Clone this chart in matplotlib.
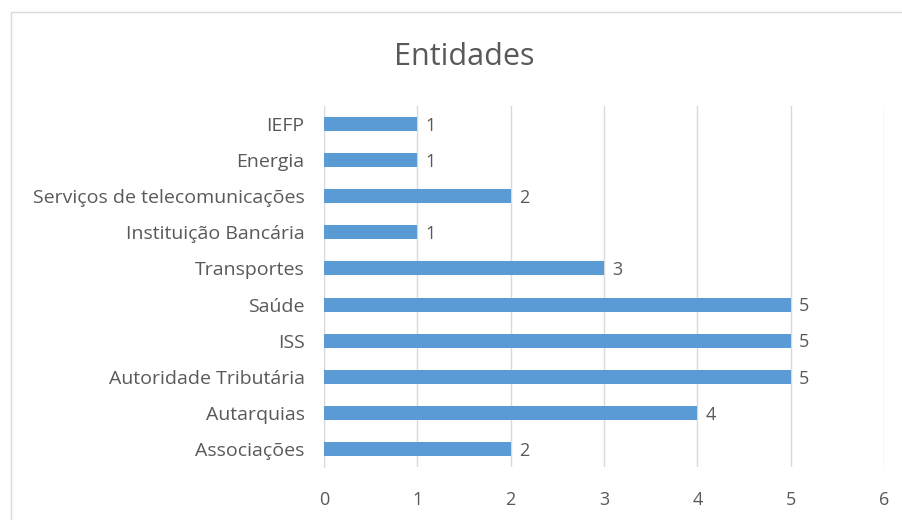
import matplotlib.pyplot as plt
import numpy as np

# data, bottom to top
categories = ['Associações', 'Autarquias', 'Autoridade Tributária', 'ISS', 'Saúde',
              'Transportes', 'Instituição Bancária', 'Serviços de telecomunicações',
              'Energia', 'IEFP']
values = [2, 4, 5, 5, 5, 3, 1, 2, 1, 1]
x_ticks = [0, 1, 2, 3, 4, 5, 6]

plt.rcParams['font.family'] = ['Open Sans', 'DejaVu Sans']
txt = '#595959'

fig = plt.figure(figsize=(9.03, 5.2), dpi=100)
# chart frame border
fig.patches.append(plt.Rectangle((11/903, -0.01), 1.0, 1 - 12/520 + 0.01,
                                 transform=fig.transFigure, fill=False,
                                 edgecolor='#D9D9D9', lw=1))

ax = fig.add_axes([324/903, 1 - 467/520, 560/903, 361/520])
y = np.arange(len(categories))
ax.barh(y, values, height=0.39, color='#5B9BD5', zorder=3)

for yi, v in zip(y, values):
    ax.text(v + 0.09, yi - 0.05, str(v), va='center', ha='left', fontsize=13, color=txt)

ax.set_xlim(0, 6)
ax.set_ylim(-0.5, len(categories) - 0.5)
ax.set_xticks(x_ticks)
ax.set_yticks(y)
ax.set_yticklabels(categories)
ax.tick_params(length=0, labelsize=14, colors=txt)
ax.tick_params(axis='x', labelsize=13, pad=17)
ax.tick_params(axis='y', pad=14)
ax.grid(axis='x', color='#D9D9D9', lw=1, zorder=0)
for s in ['top', 'right', 'bottom']:
    ax.spines[s].set_visible(False)
ax.spines['left'].set_color('#D9D9D9')

fig.text(464/903, 1 - 57/520, 'Entidades', ha='center', va='center',
         fontsize=22, color=txt)

fig.savefig('out.png', dpi=100)
